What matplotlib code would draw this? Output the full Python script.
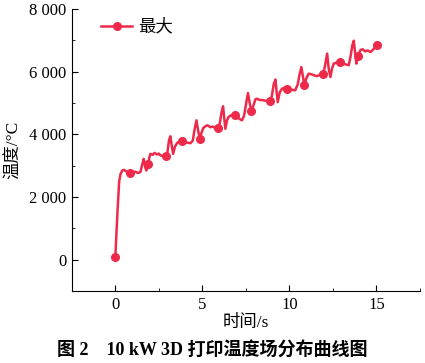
import matplotlib
matplotlib.use("Agg")
import matplotlib.pyplot as plt
from matplotlib.ticker import FuncFormatter, MultipleLocator

# time (s) and max temperature (°C)
time_s = [
    0.00, 0.12, 0.22, 0.30, 0.40, 0.50, 0.62, 0.75, 0.86, 1.00,
    1.15, 1.30, 1.44, 1.55, 1.63, 1.72, 1.78, 1.88, 1.95, 2.01,
    2.15, 2.25, 2.40, 2.49, 2.60, 2.75, 2.89, 3.00, 3.08, 3.16,
    3.24, 3.32, 3.42, 3.54, 3.65, 3.83, 3.95, 4.10, 4.31, 4.45,
    4.55, 4.66, 4.75, 4.85, 4.95, 5.05, 5.17, 5.30, 5.46, 5.60,
    5.75, 5.90, 6.00, 6.10, 6.19, 6.26, 6.32, 6.42, 6.51, 6.65,
    6.86, 7.00, 7.15, 7.28, 7.40, 7.52, 7.62, 7.72, 7.82, 7.95,
    8.05, 8.14, 8.30, 8.52, 8.70, 8.91, 9.00, 9.10, 9.20, 9.27,
    9.33, 9.45, 9.58, 9.72, 9.86, 10.05, 10.20, 10.34, 10.48, 10.60,
    10.69, 10.78, 10.86, 10.98, 11.11, 11.25, 11.45, 11.59, 11.75, 11.94,
    12.05, 12.17, 12.26, 12.36, 12.45, 12.55, 12.75, 12.93, 13.10, 13.25,
    13.41, 13.52, 13.62, 13.70, 13.78, 13.85, 13.93, 14.08, 14.20, 14.35,
    14.50, 14.66, 14.80, 15.04,
]
temp_max = [
    80, 1500, 2500, 2740, 2850, 2870, 2820, 2790, 2780, 2790,
    2810, 2770, 2800, 3050, 3220, 2950, 2850, 3060, 3250, 3380,
    3350, 3410, 3360, 3390, 3330, 3310, 3300, 3450, 3800, 3940,
    3650, 3380, 3600, 3720, 3770, 3790, 3760, 3740, 3720, 3800,
    4150, 4450, 4150, 3860, 4050, 4200, 4260, 4290, 4230, 4250,
    4200, 4200, 4350, 4700, 4900, 4500, 4180, 4450, 4560, 4610,
    4620, 4560, 4490, 4450, 4600, 5000, 5320, 5000, 4740, 4950,
    5120, 5140, 5100, 5090, 5070, 5060, 5250, 5600, 5750, 5350,
    5030, 5350, 5460, 5490, 5460, 5440, 5420, 5410, 5600, 5950,
    6150, 5850, 5570, 5800, 5940, 5920, 5880, 5860, 5900, 5920,
    6200, 6580, 6100, 5830, 6100, 6260, 6300, 6310, 6260, 6230,
    6210, 6500, 6850, 6990, 6600, 6260, 6500, 6690, 6720, 6650,
    6680, 6630, 6700, 6850,
]
# times where markers are drawn
marker_times = [0.00, 0.86, 1.88, 2.89, 3.83, 4.85, 5.90, 6.86,
                7.82, 8.91, 9.86, 10.86, 11.94, 12.93, 13.93, 15.04]

FONT = ["Liberation Serif", "Noto Sans CJK SC"]
RED = "#EE2A4B"

plt.rcParams["font.family"] = FONT

fig = plt.figure(figsize=(4.25, 3.63), dpi=100)
ax = fig.add_axes([0.169, 0.198, 0.819, 0.777])

mark_idx = [time_s.index(m) for m in marker_times]
ax.plot(time_s, temp_max, color=RED, linewidth=1.8,
        marker="o", markersize=5.5, markevery=mark_idx, label="最大")

ax.set_xlim(-2.5, 17.5)
ax.set_ylim(-1000, 8000)
ax.xaxis.set_major_locator(MultipleLocator(5))
ax.xaxis.set_minor_locator(MultipleLocator(2.5))
ax.yaxis.set_major_locator(MultipleLocator(2000))
ax.yaxis.set_minor_locator(MultipleLocator(1000))
ax.yaxis.set_major_formatter(FuncFormatter(lambda v, p: f"{int(v):,}".replace(",", " ")))
ax.tick_params(which="both", direction="in")
ax.tick_params(which="major", length=4, labelsize=12, pad=4)
ax.tick_params(which="minor", length=2.5)

for side in ("top", "right"):
    ax.spines[side].set_visible(False)

ax.set_xlabel("时间/s", fontsize=12.5, labelpad=2)
ax.set_ylabel("温度/°C", fontsize=12.5, labelpad=5)

ax.legend(loc="upper left", frameon=False, fontsize=12.5,
          bbox_to_anchor=(0.04, 1.02), handlelength=1.75, handletextpad=0.35)

fig.text(0.5, 0.035, "图 2    10 kW 3D 打印温度场分布曲线图",
         ha="center", va="center", fontsize=13, fontweight="bold")

fig.savefig("out.png", dpi=100)
